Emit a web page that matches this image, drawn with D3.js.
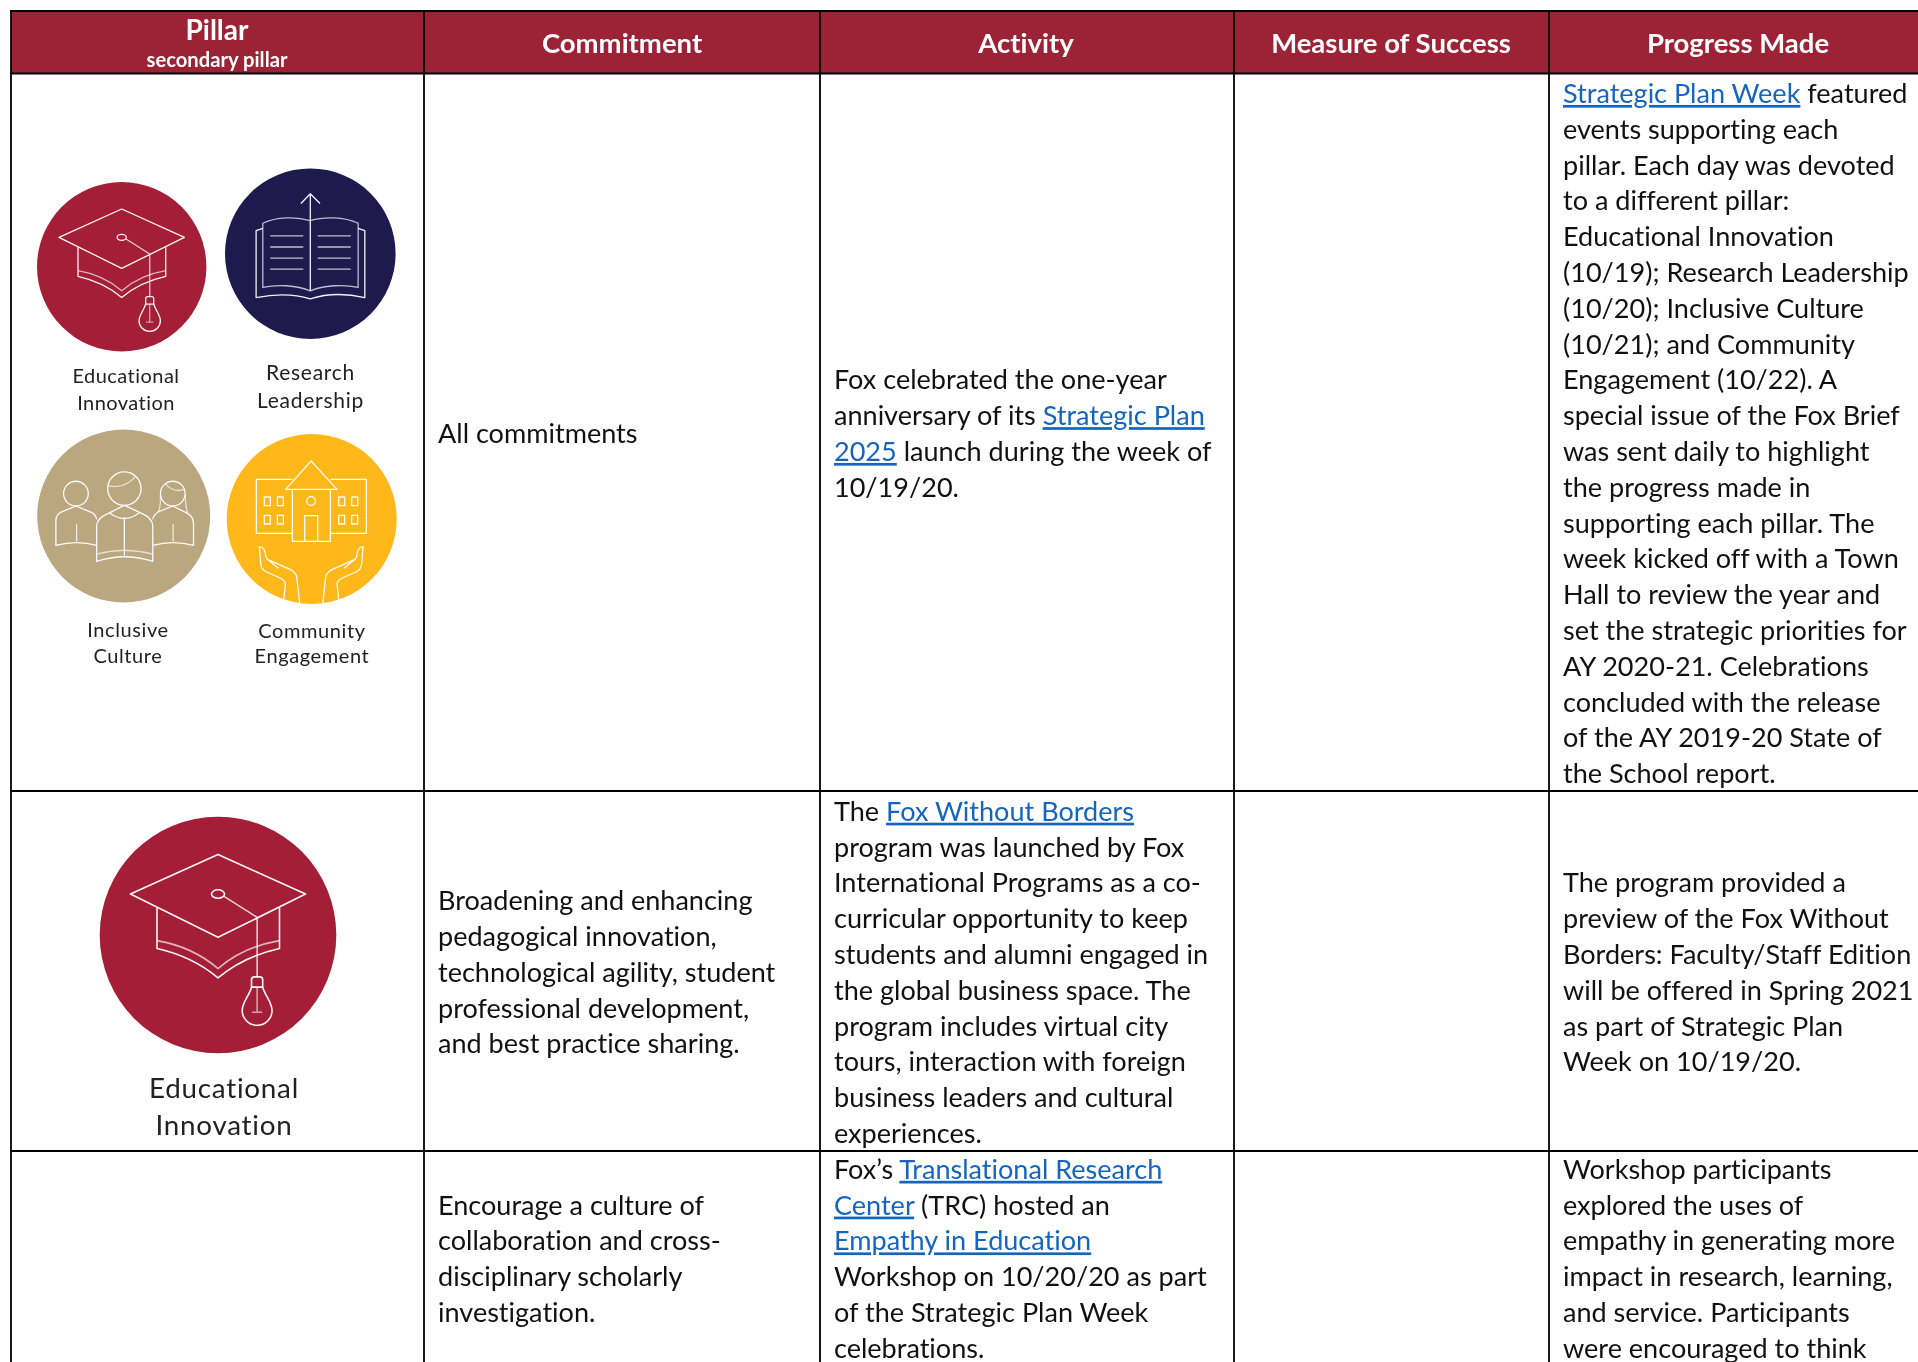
<!DOCTYPE html>
<html><head><meta charset="utf-8">
<script src="https://cdnjs.cloudflare.com/ajax/libs/d3/7.8.5/d3.min.js"></script>
<style>
html,body{margin:0;padding:0;background:#fff;overflow:hidden}
svg{display:block;filter:blur(0.35px)}
text{font-family:Lato,Carlito,sans-serif;fill:#111;font-variant-ligatures:none}
.link{fill:#1565c0;text-decoration:underline}
</style></head><body><script>
const columns = ["Pillar","Commitment","Activity","Measure of Success","Progress Made"];
const secondaryHeader = "secondary pillar";
const rows = ["all","edu","research"];

const commitmentText = [
  ["All commitments"],
  ["Broadening and enhancing","pedagogical innovation,","technological agility, student","professional development,","and best practice sharing."],
  ["Encourage a culture of","collaboration and cross-","disciplinary scholarly","investigation."]
];
const activityText = [
  ["Fox celebrated the one-year","anniversary of its [Strategic Plan]","[2025] launch during the week of","10/19/20."],
  ["The [Fox Without Borders]","program was launched by Fox","International Programs as a co-","curricular opportunity to keep","students and alumni engaged in","the global business space. The","program includes virtual city","tours, interaction with foreign","business leaders and cultural","experiences."],
  ["Fox’s [Translational Research]","[Center] (TRC) hosted an","[Empathy in Education]","Workshop on 10/20/20 as part","of the Strategic Plan Week","celebrations."]
];
const progressText = [
  ["[Strategic Plan Week] featured","events supporting each","pillar. Each day was devoted","to a different pillar:","Educational Innovation","(10/19); Research Leadership","(10/20); Inclusive Culture","(10/21); and Community","Engagement (10/22). A","special issue of the Fox Brief","was sent daily to highlight","the progress made in","supporting each pillar. The","week kicked off with a Town","Hall to review the year and","set the strategic priorities for","AY 2020-21. Celebrations","concluded with the release","of the AY 2019-20 State of","the School report."],
  ["The program provided a","preview of the Fox Without","Borders: Faculty/Staff Edition","will be offered in Spring 2021","as part of Strategic Plan","Week on 10/19/20."],
  ["Workshop participants","explored the uses of","empathy in generating more","impact in research, learning,","and service. Participants","were encouraged to think"]
];

const pillarNames = {edu:["Educational","Innovation"],res:["Research","Leadership"],inc:["Inclusive","Culture"],com:["Community","Engagement"]};
const pillarColors = {edu:"#a51e37",res:"#1e1a4d",inc:"#baa77f",com:"#ffb819"};

const W=1918,H=1362;
const svg=d3.select("body").append("svg").attr("width",W).attr("height",H);

const colEdges=[11,424,820,1234,1549,1960];
const rowEdges=[73.5,791,1151,1364];
const xCol=d3.scaleOrdinal(columns,colEdges);
const yTop=d3.scaleOrdinal(rows,rowEdges);
const yEnd=d3.scaleOrdinal(rows,rowEdges.slice(1));
const lineStep=35.8;
const lineY=d3.scaleLinear().domain([0,1]).range([0,lineStep]);
const FS=27.05;

// header
svg.append("rect").attr("x",11).attr("y",11).attr("width",W).attr("height",62.5).attr("fill","#9c2336");
const hd=svg.append("g").attr("font-weight",700).attr("text-anchor","middle");
const headCx={Pillar:217,Commitment:622,Activity:1026,"Measure of Success":1391,"Progress Made":1738};
hd.selectAll("text").data(columns).join("text")
  .attr("x",d=>headCx[d]).attr("y",d=>d==="Pillar"?39.5:52.5)
  .attr("font-size",d=>d==="Pillar"?28:27.5).style("fill","#fff").text(d=>d);
hd.append("text").attr("x",217).attr("y",66.5).attr("font-size",20.2).style("fill","#fff").text(secondaryHeader);

// body text
function addCell(lines,col,row){
  const cy=(yTop(row)+yEnd(row))/2, x0=xCol(col)+14;
  const top=cy-lines.length*lineStep/2+28.7;
  const t=svg.append("g").attr("font-size",FS);
  t.selectAll("text").data(lines).join("text")
    .attr("x",x0).attr("y",(d,i)=>top+lineY(i))
    .each(function(d){
      const el=d3.select(this);
      d.split(/(\[[^\]]*\])/).filter(s=>s).forEach(s=>{
        const link=s[0]==="[";
        el.append("tspan").attr("class",link?"link":null).text(link?s.slice(1,-1):s);
      });
    });
}
rows.forEach((r,i)=>{
  addCell(commitmentText[i],"Commitment",r);
  addCell(activityText[i],"Activity",r);
  addCell(progressText[i],"Progress Made",r);
});

// grid
const grid=svg.append("g").attr("stroke","#000").attr("stroke-width",1.8);
grid.selectAll(".v").data(colEdges.slice(0,5)).join("line").attr("x1",d=>d).attr("x2",d=>d).attr("y1",10).attr("y2",H);
grid.selectAll(".h").data([11,...rowEdges.slice(0,3)]).join("line").attr("x1",10).attr("x2",W).attr("y1",d=>d).attr("y2",d=>d);

// icons: drawn in a local 3x frame centred on each circle
const icons={
 edu:{c:[365,800],r:254,draw(g){
   g.append("path").attr("d","M365 627L553 712L365 805L177 712Z");
   g.append("path").attr("d","M234 742V829Q310 846 365 892Q420 846 497 829V742");
   g.append("path").attr("d","M234 812Q310 825 365 872Q420 825 497 812").attr("opacity",.7);
   g.append("ellipse").attr("cx",365).attr("cy",712).attr("rx",14).attr("ry",9);
   g.append("path").attr("d","M378 717L449 762V890").attr("opacity",.8);
   g.append("path").attr("d","M437 912V896Q437 890 443 890H455Q461 890 461 896V912");
   g.append("path").attr("d","M437 912C432 930 417 945 417 962A32 32 0 1 0 481 962C481 945 466 930 461 912Z");
   g.append("path").attr("d","M449 912V966M438 966H460").attr("opacity",.6);
 }},
 res:{c:[931,761],r:255,draw(g){
   g.append("path").attr("d","M931 872V582M903 611L931 582L960 611");
   g.append("path").attr("d","M931 662C890 650 830 650 789 670V862C830 852 890 855 931 872C970 855 1032 852 1074 862V670C1032 650 970 650 931 662").attr("opacity",.75);
   g.append("path").attr("d","M789 685L769 692V892C830 880 880 880 931 896C980 880 1040 880 1094 892V692L1074 685");
   g.append("path").attr("opacity",.75).attr("d",[708,741,774,807].map(y=>`M811 ${y}H910M953 ${y}H1052`).join(""));
 }},
 inc:{c:[371,348],r:259,draw(g){
   g.append("circle").attr("cx",228).attr("cy",281).attr("r",37);
   g.append("path").attr("d","M290 436Q230 420 168 436V362Q168 345 182 337L228 318L276 338Q288 345 290 358");
   g.append("path").attr("d","M230 372V424").attr("opacity",.8);
   g.append("circle").attr("cx",373).attr("cy",266).attr("r",50);
   g.append("path").attr("d","M326 258Q375 268 408 228").attr("opacity",.7);
   g.append("path").attr("d","M373 316L325 340Q290 355 290 378V484Q373 456 458 484V378Q458 355 425 340Z");
   g.append("path").attr("d","M290 462Q373 440 458 462").attr("opacity",.7);
   g.append("path").attr("d","M373 352V466M328 338Q373 372 418 338");
   g.append("circle").attr("cx",518).attr("cy",281).attr("r",37);
   g.append("path").attr("d","M496 252Q520 280 552 268M481 285C482 310 480 325 474 336M555 285C556 310 558 325 562 340").attr("opacity",.7);
   g.append("path").attr("d","M458 358Q460 345 474 336L518 318L562 340Q580 350 580 370V436Q520 420 458 436");
   g.append("path").attr("d","M519 372V424").attr("opacity",.8);
 }},
 com:{c:[935,357],r:255,draw(g){
   g.append("path").attr("d","M877 238H769V400H877M991 238H1099V400H991");
   g.append("path").attr("d","M877 268V424H991V268");
   g.append("path").attr("d","M857 268L933 183L1011 268Z");
   g.append("circle").attr("cx",933).attr("cy",303).attr("r",13);
   g.append("path").attr("d","M914 424V347H953V424");
   g.selectAll("rect").data([[793,291],[832,291],[793,346],[832,346],[1016,291],[1055,291],[1016,346],[1055,346]])
    .join("rect").attr("x",d=>d[0]).attr("y",d=>d[1]).attr("width",18).attr("height",26);
   const hand="M851 600L856 552Q856 542 840 534L800 516Q782 508 782 490L778 440Q795 440 797 470L802 478L870 508Q888 518 890 530L899 610M802 478L835 505";
   g.append("path").attr("d",hand);
   g.append("path").attr("d",hand).attr("transform","translate(1867 0) scale(-1 1)");
 }}
};
let clipId=0;
function icon(key,cx,cy,R){
  const ic=icons[key], id="clip"+(clipId++);
  const g=svg.append("g").attr("transform",`translate(${cx},${cy})`);
  g.append("circle").attr("r",R).attr("fill",pillarColors[key]);
  const s=R/ic.r;
  const inner=g.append("g").attr("transform",`scale(${s}) translate(${-ic.c[0]},${-ic.c[1]})`)
    .attr("fill","none").attr("stroke","#fff").attr("stroke-opacity",.95).attr("stroke-width",(R>100?1.6:1.3)/s).attr("stroke-linejoin","round");
  svg.append("clipPath").attr("id",id).append("circle").attr("cx",ic.c[0]).attr("cy",ic.c[1]).attr("r",ic.r);
  inner.attr("clip-path",`url(#${id})`);
  ic.draw(inner);
}
function label(key,x,y1,y2,size,ls){
  pillarNames[key].forEach((t,i)=>svg.append("text").attr("x",x).attr("y",i?y2:y1)
    .attr("text-anchor","middle").attr("font-size",size).attr("letter-spacing",ls).style("fill","#222").text(t));
}
icon("edu",121.7,266.7,84.7);  label("edu",126,383,410,20,.45);
icon("res",310.3,253.7,85.3);  label("res",310.5,380,408,21,.75);
icon("inc",123.7,516,86.5);    label("inc",128,637,663,20,.6);
icon("com",311.7,519,85);      label("com",312,638,663,20,.6);
icon("edu",218,935,118.3);     label("edu",224,1098,1135,27.8,.75);
</script></body></html>
